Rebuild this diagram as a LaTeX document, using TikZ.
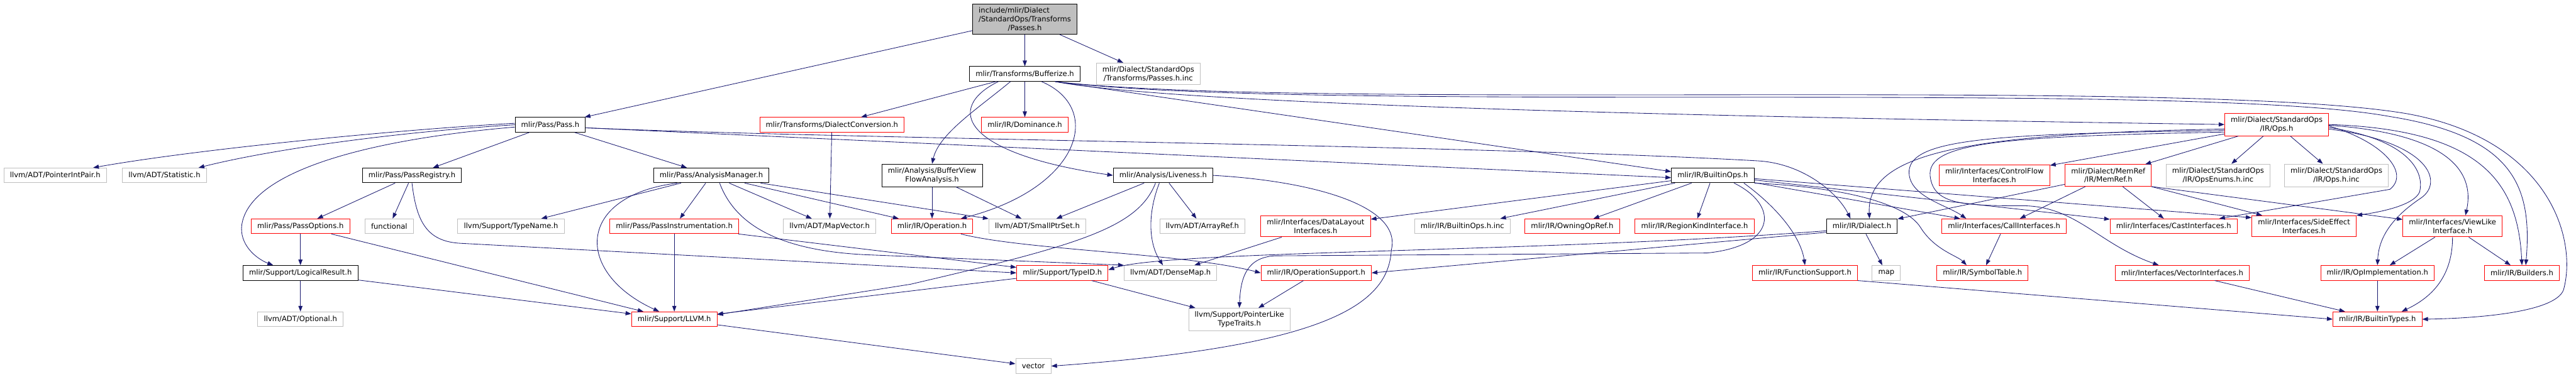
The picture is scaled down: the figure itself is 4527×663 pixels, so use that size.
\documentclass[tikz,border=0pt]{standalone}
\usepackage{fontspec}
\setsansfont{DejaVu Sans}
\usetikzlibrary{arrows.meta}
\definecolor{midblue}{RGB}{25,25,112}
\definecolor{grey75}{RGB}{191,191,191}

\begin{document}
\begin{tikzpicture}[x=0.75pt,y=-0.75pt,font=\sffamily\fontsize{9.6}{11.5}\selectfont,
  file/.style={draw=black,fill=white,line width=0.8pt,inner xsep=8pt,inner ysep=4.5pt,minimum height=19.5pt,align=center},
  extfile/.style={file,draw=grey75},
  cutfile/.style={file,draw=red},
  topfile/.style={file,fill=grey75},
  inc/.style={midblue,line width=0.7pt,-{Triangle[length=7.5pt,width=5.5pt]}}]
\useasboundingbox (0,0) rectangle (4527,663);
% rank 0 and 1
\node[topfile] (root) at (1801,33.5) {\rlap{include/mlir/Dialect}\phantom{/StandardOps/Transforms}\\/StandardOps/Transforms\\/Passes.h};
\node[file] (buf) at (1801,130) {mlir/Transforms/Bufferize.h};
\node[extfile] (passinc) at (2018,130) {mlir/Dialect/StandardOps\\/Transforms/Passes.h.inc};
% rank 2
\node[file] (pass) at (967,219.5) {mlir/Pass/Pass.h};
\node[cutfile] (conv) at (1462,219.5) {mlir/Transforms/DialectConversion.h};
\node[cutfile] (dom) at (1801,219.5) {mlir/IR/Dominance.h};
\node[cutfile] (stdops) at (4001,219) {mlir/Dialect/StandardOps\\/IR/Ops.h};
% rank 3
\node[extfile] (ptrint) at (97,308.5) {llvm/ADT/PointerIntPair.h};
\node[extfile] (stat) at (289,308.5) {llvm/ADT/Statistic.h};
\node[file] (reg) at (724,308.5) {mlir/Pass/PassRegistry.h};
\node[file] (anmgr) at (1250,308.5) {mlir/Pass/AnalysisManager.h};
\node[file] (bvf) at (1638,308.5) {mlir/Analysis/BufferView\\FlowAnalysis.h};
\node[file] (live) at (2044,308.5) {mlir/Analysis/Liveness.h};
\node[file] (bops) at (3010,308.5) {mlir/IR/BuiltinOps.h};
\node[cutfile] (cfi) at (3505,308.5) {mlir/Interfaces/ControlFlow\\Interfaces.h};
\node[cutfile] (memref) at (3705,308.5) {mlir/Dialect/MemRef\\/IR/MemRef.h};
\node[extfile] (opsenum) at (3898,308.5) {mlir/Dialect/StandardOps\\/IR/OpsEnums.h.inc};
\node[extfile] (opsinc) at (4106,308.5) {mlir/Dialect/StandardOps\\/IR/Ops.h.inc};
% rank 4
\node[cutfile] (popt) at (528,398) {mlir/Pass/PassOptions.h};
\node[extfile] (func) at (684,398) {functional};
\node[extfile] (tname) at (898,398) {llvm/Support/TypeName.h};
\node[cutfile] (pinst) at (1185,398) {mlir/Pass/PassInstrumentation.h};
\node[extfile] (mapvec) at (1458,398) {llvm/ADT/MapVector.h};
\node[cutfile] (oper) at (1638,398) {mlir/IR/Operation.h};
\node[extfile] (sptr) at (1823,398) {llvm/ADT/SmallPtrSet.h};
\node[extfile] (aref) at (2113,398) {llvm/ADT/ArrayRef.h};
\node[cutfile] (dli) at (2312,398) {mlir/Interfaces/DataLayout\\Interfaces.h};
\node[extfile] (bopsinc) at (2570,398) {mlir/IR/BuiltinOps.h.inc};
\node[cutfile] (owning) at (2763,398) {mlir/IR/OwningOpRef.h};
\node[cutfile] (region) at (2978,398) {mlir/IR/RegionKindInterface.h};
\node[file] (dialect) at (3272,398) {mlir/IR/Dialect.h};
\node[cutfile] (call) at (3522,398) {mlir/Interfaces/CallInterfaces.h};
\node[cutfile] (cast) at (3820,398) {mlir/Interfaces/CastInterfaces.h};
\node[cutfile] (sideeff) at (4049,398) {mlir/Interfaces/SideEffect\\Interfaces.h};
\node[cutfile] (viewlike) at (4310,398) {mlir/Interfaces/ViewLike\\Interface.h};
% rank 5
\node[file] (logres) at (528,480) {mlir/Support/LogicalResult.h};
\node[cutfile] (typeid) at (1867,480) {mlir/Support/TypeID.h};
\node[extfile] (dmap) at (2057,480) {llvm/ADT/DenseMap.h};
\node[cutfile] (opsup) at (2313,480) {mlir/IR/OperationSupport.h};
\node[cutfile] (funcsup) at (3172,480) {mlir/IR/FunctionSupport.h};
\node[extfile] (map) at (3315,480) {map};
\node[cutfile] (symtab) at (3484,480) {mlir/IR/SymbolTable.h};
\node[cutfile] (vecint) at (3835,480) {mlir/Interfaces/VectorInterfaces.h};
\node[cutfile] (opimpl) at (4178,480) {mlir/IR/OpImplementation.h};
\node[cutfile] (builders) at (4432,480) {mlir/IR/Builders.h};
% rank 6 and 7
\node[extfile] (optional) at (528,561.5) {llvm/ADT/Optional.h};
\node[cutfile] (llvm) at (1185,561.5) {mlir/Support/LLVM.h};
\node[extfile] (ptrlike) at (2178,562) {llvm/Support/PointerLike\\TypeTraits.h};
\node[cutfile] (btypes) at (4178,561.5) {mlir/IR/BuiltinTypes.h};
\node[extfile] (vector) at (1816,644) {vector};
% straight includes
\foreach \a/\b in {root/pass,root/buf,root/passinc,buf/conv,buf/dom,pass/reg,pass/anmgr,reg/popt,reg/func,
  anmgr/tname,anmgr/pinst,anmgr/mapvec,anmgr/oper,anmgr/sptr,conv/mapvec,bvf/oper,bvf/sptr,live/sptr,live/aref,
  popt/logres,popt/llvm,logres/optional,logres/llvm,pinst/llvm,pinst/typeid,typeid/llvm,typeid/ptrlike,
  opsup/ptrlike,dli/dmap,llvm/vector,bops/dli,bops/bopsinc,bops/owning,bops/region,bops/call,bops/cast,
  dialect/map,call/symtab,memref/dialect,memref/call,memref/cast,memref/sideeff,stdops/cfi,stdops/memref,
  stdops/opsenum,stdops/opsinc,viewlike/opimpl,viewlike/builders,opimpl/btypes,vecint/btypes}
  {\draw[inc] (\a) -- (\b);}
% Pass.h
\draw[inc] ([yshift=2pt]pass.west) .. controls (700,228) and (350,262) .. ([xshift=50pt]ptrint.north);
\draw[inc] (pass.west) .. controls (700,232) and (480,262) .. ([xshift=45pt]stat.north);
\draw[inc] ([yshift=-3pt]pass.west) .. controls (650,245) and (440,300) .. (425,395) .. controls (420,430) and (450,455) .. ([xshift=-36pt]logres.north);
\draw[inc] ([yshift=-4pt]pass.east) -- ([yshift=-3pt]bops.west);
\draw[inc] ([yshift=-4pt]pass.east) .. controls (1500,245) and (2600,255) .. (3090,283) .. controls (3170,288) and (3230,340) .. ([xshift=-15pt]dialect.north);
% Bufferize.h
\draw[inc] ([xshift=-35pt]buf.south) .. controls (1660,190) and (1690,270) .. (live.west);
\draw[inc] ([xshift=-19pt]buf.south) .. controls (1720,190) and (1650,235) .. (bvf.north);
\draw[inc] ([xshift=22pt]buf.south) .. controls (1940,190) and (1900,330) .. ([xshift=38pt]oper.north);
\draw[inc] ([xshift=40pt]buf.south) -- ([yshift=5pt]bops.west);
\draw[inc] ([xshift=40pt]buf.south) .. controls (2100,190) and (3300,210) .. (stdops.west);
\draw[inc] ([xshift=40pt]buf.south) .. controls (2300,200) and (3850,140) .. (4200,205) .. controls (4420,240) and (4450,330) .. ([xshift=5pt]builders.north);
\draw[inc] ([xshift=40pt]buf.south) .. controls (2300,195) and (3850,135) .. (4230,200) .. controls (4480,245) and (4530,420) .. (4505,510) .. controls (4490,550) and (4350,560) .. (btypes.east);
% AnalysisManager.h, PassRegistry.h
\draw[inc] ([xshift=-45pt]anmgr.south) .. controls (1010,345) and (1010,480) .. ([xshift=-20pt]llvm.north);
\draw[inc] ([xshift=11pt]anmgr.south) .. controls (1290,390) and (1360,440) .. (1520,448) -- (dmap.north west);
\draw[inc] (reg.south) .. controls (732,390) and (750,425) .. (810,428) -- (typeid.west);
% Liveness.h, Operation.h
\draw[inc] ([xshift=-10pt]live.south) .. controls (2000,400) and (1900,430) .. (1600,500) -- ([yshift=6pt]llvm.east);
\draw[inc] ([xshift=-5pt]live.south) .. controls (2015,380) and (2020,430) .. ([xshift=-10pt]dmap.north);
\draw[inc] (live.east) .. controls (2300,318) and (2465,360) .. (2445,440) .. controls (2440,540) and (2320,610) .. (vector.east);
\draw[inc] ([xshift=38pt]oper.south) .. controls (1800,440) and (2080,445) .. (opsup.west);
% BuiltinOps.h, Dialect.h
\draw[inc] ([xshift=41pt]bops.south) .. controls (3130,370) and (3165,420) .. (funcsup.north);
\draw[inc] ([xshift=28pt]bops.south) .. controls (3125,360) and (3125,432) .. (3000,445) -- (2240,450) .. controls (2190,453) and (2180,490) .. (ptrlike.north);
\draw[inc] (bops.south east) .. controls (3250,330) and (3350,360) .. (3375,400) .. controls (3400,440) and (3440,450) .. ([xshift=-21pt]symtab.north);
\draw[inc] (bops) -- ([yshift=-3pt]sideeff.north west);
\draw[inc] ([yshift=-6pt]dialect.west) .. controls (2700,445) and (2050,440) .. ([yshift=4pt]typeid.east);
\draw[inc] ([yshift=-8pt]dialect.west) -- (opsup.east);
% StandardOps/IR/Ops.h
\draw[inc] ([yshift=-6pt]stdops.west) .. controls (3450,235) and (3280,270) .. ([xshift=10pt]dialect.north);
\draw[inc] ([yshift=-8pt]stdops.west) .. controls (3500,235) and (3360,245) .. (3355,300) .. controls (3352,345) and (3420,360) .. ([xshift=-50pt]call.north);
\draw[inc] ([yshift=-10pt]stdops.west) .. controls (3520,240) and (3385,250) .. (3392,310) .. controls (3398,360) and (3450,362) .. (3560,362) .. controls (3650,365) and (3690,430) .. ([xshift=-31pt]vecint.north);
\draw[inc] ([yshift=-2pt]stdops.east) .. controls (4190,250) and (4235,305) .. (4200,333) -- ([xshift=60pt]cast.north);
\draw[inc] ([yshift=-4pt]stdops.east) .. controls (4230,245) and (4262,300) .. (4252,338) .. controls (4242,360) and (4190,372) .. (sideeff.north east);
\draw[inc] ([yshift=-6pt]stdops.east) .. controls (4270,250) and (4295,320) .. (4255,348) .. controls (4195,388) and (4180,425) .. (opimpl.north);
\draw[inc] ([yshift=-1pt]stdops.east) .. controls (4300,235) and (4350,300) .. ([xshift=17pt]viewlike.north);
\draw[inc] (stdops.east) .. controls (4360,228) and (4425,320) .. (builders.north);
% MemRef.h, ViewLikeInterface.h, FunctionSupport.h
\draw[inc] (memref.south east) -- ([yshift=9pt]viewlike.west);
\draw[inc] (viewlike.south) .. controls (4310,480) and (4280,520) .. ([xshift=32pt]btypes.north);
\draw[inc] (funcsup.south east) -- (btypes.west);
\end{tikzpicture}
\end{document}
